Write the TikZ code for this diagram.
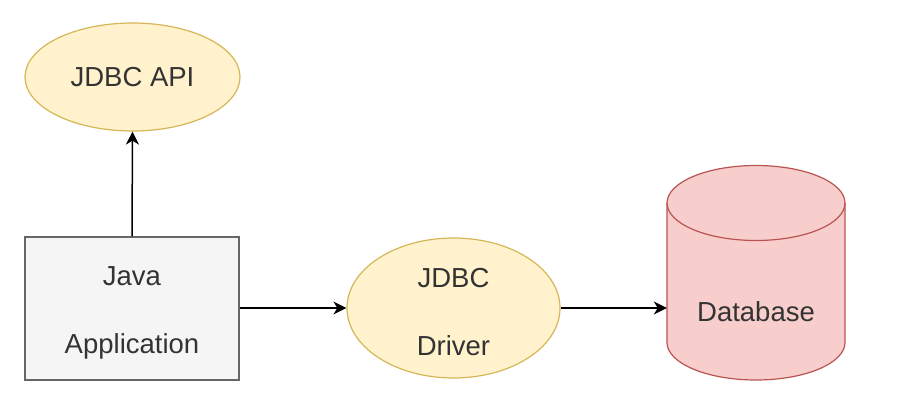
\documentclass[tikz,border=0pt]{standalone}
\usepackage{fontspec}
\setmainfont{Liberation Sans}
\usetikzlibrary{shapes.geometric,arrows.meta}
\definecolor{apifill}{HTML}{FFF2CC}
\definecolor{apiline}{HTML}{D6B656}
\definecolor{appfill}{HTML}{F5F5F5}
\definecolor{appline}{HTML}{666666}
\definecolor{dbfill}{HTML}{F8CECC}
\definecolor{dbline}{HTML}{B85450}
\definecolor{txt}{HTML}{333333}
\tikzset{
  lbl/.style={text=txt,font=\fontsize{27.5}{68}\selectfont,align=center},
  oval/.style={lbl,ellipse,draw=apiline,fill=apifill,line width=1.2pt,inner sep=0pt},
  box/.style={lbl,rectangle,draw=appline,fill=appfill,line width=1.2pt,inner sep=0pt},
  link/.style={line width=1.5pt,-{Stealth[length=13pt,width=13pt,inset=4pt]}}
}
\begin{document}
\begin{tikzpicture}[x=1pt,y=1pt]
\useasboundingbox (0,0) rectangle (916,413);

\node[oval,minimum width=215pt,minimum height=108pt] (api) at (132.5,336) {JDBC API};
\node[box,minimum width=214pt,minimum height=143pt] (app) at (132,104.5) {\rule{0pt}{28pt}Java\\Application};
\node[oval,minimum width=213pt,minimum height=140pt] (drv) at (453.5,105) {\rule{0pt}{28pt}JDBC\\Driver};

% database cylinder
\draw[dbline,fill=dbfill,line width=1.2pt] (667,210) -- (667,70.5) arc[start angle=180,end angle=360,x radius=89,y radius=37.5] -- (845,210) arc[start angle=0,end angle=180,x radius=89,y radius=37.5];
\draw[dbline,line width=1.2pt] (667,210) arc[start angle=180,end angle=360,x radius=89,y radius=37.5];
\node[lbl,minimum width=178pt,minimum height=140pt,inner sep=0pt] (db) at (756,101) {Database};

\draw[link] (app.north) -- (api.south);
\draw[link] (app.east |- drv) -- (drv.west);
\draw[link] (drv.east) -- (drv -| db.west);
\end{tikzpicture}
\end{document}
